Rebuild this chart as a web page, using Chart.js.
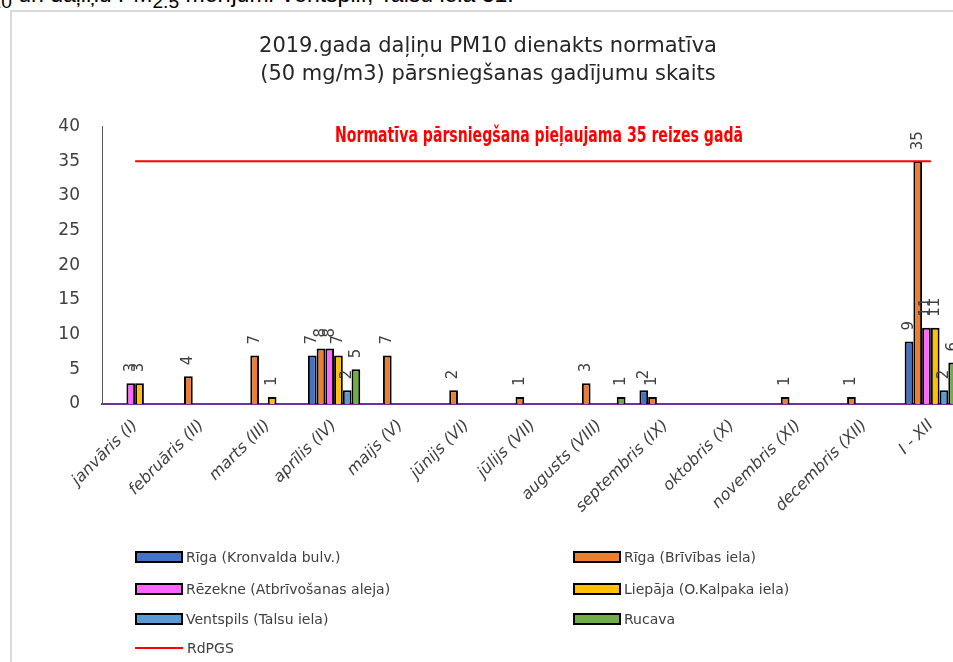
<!DOCTYPE html>
<html>
<head>
<meta charset="utf-8">
<script src="https://cdn.jsdelivr.net/npm/chart.js@4.4.0/dist/chart.umd.min.js"></script>
<style>
  html, body { margin: 0; padding: 0; background: #fff; overflow: hidden; width: 953px; height: 662px; }
  #topline { position: absolute; left: -44px; top: -19px; font: 23px "Liberation Sans", sans-serif; color: #000; white-space: nowrap; }
  #frame { position: absolute; left: 10px; top: 10px; width: 980px; height: 700px; border-left: 2px solid #d9d9d9; border-top: 2px solid #d9d9d9; }
  #chart { position: absolute; left: 0; top: 0; }
  #legend { position: absolute; left: 0; top: 0; font: 14px "DejaVu Sans", sans-serif; color: #404040; }
  .item { position: absolute; display: flex; align-items: center; white-space: nowrap; }
  .box { width: 44px; height: 8px; border: 2px solid #000; margin-right: 3px; }
  .line { width: 48px; height: 2px; margin-right: 4px; }
</style>
</head>
<body>
<div id="topline">PM<sub>10</sub> un daļiņu PM<sub>2.5</sub> mērījumi Ventspilī, Talsu ielā 31.</div>
<div id="frame">
  <canvas id="chart" width="952" height="650"></canvas>
  <div id="legend"></div>
</div>
<script>
const categories = ['janvāris (I)', 'februāris (II)', 'marts (III)', 'aprīlis (IV)', 'maijs (V)', 'jūnijs (VI)',
    'jūlijs (VII)', 'augusts (VIII)', 'septembris (IX)', 'oktobris (X)', 'novembris (XI)', 'decembris (XII)', 'I - XII'];
const rigaKronvalda = [0, 0, 0, 7, 0, 0, 0, 0, 2, 0, 0, 0, 9];
const rigaBrivibas  = [0, 4, 7, 8, 7, 2, 1, 3, 1, 0, 1, 1, 35];
const rezekne       = [3, 0, 0, 8, 0, 0, 0, 0, 0, 0, 0, 0, 11];
const liepaja       = [3, 0, 1, 7, 0, 0, 0, 0, 0, 0, 0, 0, 11];
const ventspils     = [0, 0, 0, 2, 0, 0, 0, 0, 0, 0, 0, 0, 2];
const rucava        = [0, 0, 0, 5, 0, 0, 0, 1, 0, 0, 0, 0, 6];
const rdpgs         = [35, 35, 35, 35, 35, 35, 35, 35, 35, 35, 35, 35, 35];
const yTicks = [0, 5, 10, 15, 20, 25, 30, 35, 40];
const noteText = 'Normatīva pārsniegšana pieļaujama 35 reizes gadā';

Chart.defaults.font.family = "'DejaVu Sans', sans-serif";
Chart.defaults.color = '#404040';

const barSet = (label, data, color) => ({
    type: 'bar',
    label: label,
    data: data,
    backgroundColor: color,
    borderColor: '#000',
    borderWidth: 2,
    categoryPercentage: 0.79,
    barPercentage: 1.0,
    order: 1
});

// value labels, rotated like in the excel chart
const barLabels = {
    id: 'barLabels',
    afterDatasetsDraw(chart) {
        const ctx = chart.ctx;
        ctx.save();
        ctx.font = "15px 'DejaVu Sans', sans-serif";
        ctx.fillStyle = '#404040';
        ctx.textAlign = 'left';
        ctx.textBaseline = 'middle';
        chart.data.datasets.forEach((ds, i) => {
            if (ds.type !== 'bar') return;
            chart.getDatasetMeta(i).data.forEach((bar, j) => {
                if (!ds.data[j]) return;
                ctx.save();
                ctx.translate(bar.x, bar.y - 11);
                ctx.rotate(-Math.PI / 2);
                ctx.fillText(String(ds.data[j]), 0, 0);
                ctx.restore();
            });
        });
        ctx.restore();
    }
};

// red note above the limit line, squeezed to look like a condensed bold font
const normNote = {
    id: 'normNote',
    afterDraw(chart) {
        const ctx = chart.ctx;
        const area = chart.chartArea;
        const y = chart.scales.y.getPixelForValue(38.6);
        ctx.save();
        ctx.font = "bold 20px 'DejaVu Sans', sans-serif";
        const w = ctx.measureText(noteText).width;
        const sx = 408 / w;
        ctx.translate((area.left + area.right) / 2 + 6, y);
        ctx.scale(sx, 1.05);
        ctx.fillStyle = '#ff0000';
        ctx.textAlign = 'center';
        ctx.textBaseline = 'middle';
        ctx.fillText(noteText, 0, 0);
        ctx.restore();
    }
};

const chart = new Chart(document.getElementById('chart').getContext('2d'), {
    data: {
        labels: categories,
        datasets: [
            barSet('Rīga (Kronvalda bulv.)', rigaKronvalda, '#4472C4'),
            barSet('Rīga (Brīvības iela)', rigaBrivibas, '#ED7D31'),
            barSet('Rēzekne (Atbrīvošanas aleja)', rezekne, '#FF66FF'),
            barSet('Liepāja (O.Kalpaka iela)', liepaja, '#FFC000'),
            barSet('Ventspils (Talsu iela)', ventspils, '#5B9BD5'),
            barSet('Rucava', rucava, '#70AD47'),
            {
                type: 'line',
                label: 'RdPGS',
                data: rdpgs,
                borderColor: '#FF0000',
                backgroundColor: '#FF0000',
                borderWidth: 2,
                pointRadius: 0,
                order: 0
            }
        ]
    },
    options: {
        responsive: false,
        animation: false,
        layout: { padding: { left: 0, right: 0, top: 0, bottom: 118 } },
        plugins: {
            legend: { display: false },
            tooltip: { enabled: false },
            title: {
                display: true,
                text: ['2019.gada daļiņu PM10 dienakts normatīva', '(50 mg/m3) pārsniegšanas gadījumu skaits'],
                color: '#262626',
                font: { size: 21, weight: 'normal', lineHeight: 1.35 },
                padding: { top: 20, bottom: 38 }
            }
        },
        scales: {
            x: {
                grid: { display: false },
                border: { display: true, color: '#7030A0', width: 2 },
                ticks: {
                    autoSkip: false,
                    minRotation: 45,
                    maxRotation: 45,
                    padding: 4,
                    font: { size: 16, style: 'italic' },
                    color: '#404040'
                },
                afterFit: (scale) => { scale.height = 140; }
            },
            y: {
                min: 0,
                max: 40,
                afterBuildTicks: (scale) => { scale.ticks = yTicks.map(v => ({ value: v })); },
                grid: { display: false, drawTicks: false },
                border: { display: true, color: '#595959', width: 1 },
                ticks: { padding: 22, font: { size: 17 }, color: '#404040' },
                afterFit: (scale) => { scale.width = 90; }
            }
        }
    },
    plugins: [barLabels, normNote]
});

// two column legend like the excel one
const legendPos = [[123, 546], [561, 546], [123, 578], [561, 578], [123, 608], [561, 608], [123, 637]];
const legendEl = document.getElementById('legend');
chart.data.datasets.forEach((ds, i) => {
    const item = document.createElement('div');
    item.className = 'item';
    item.style.left = legendPos[i][0] + 'px';
    item.style.top = (legendPos[i][1] - 9) + 'px';
    const mark = document.createElement('div');
    if (ds.type === 'bar') {
        mark.className = 'box';
        mark.style.background = ds.backgroundColor;
    } else {
        mark.className = 'line';
        mark.style.background = ds.borderColor;
    }
    const txt = document.createElement('span');
    txt.textContent = ds.label;
    item.appendChild(mark);
    item.appendChild(txt);
    legendEl.appendChild(item);
});
</script>
</body>
</html>
